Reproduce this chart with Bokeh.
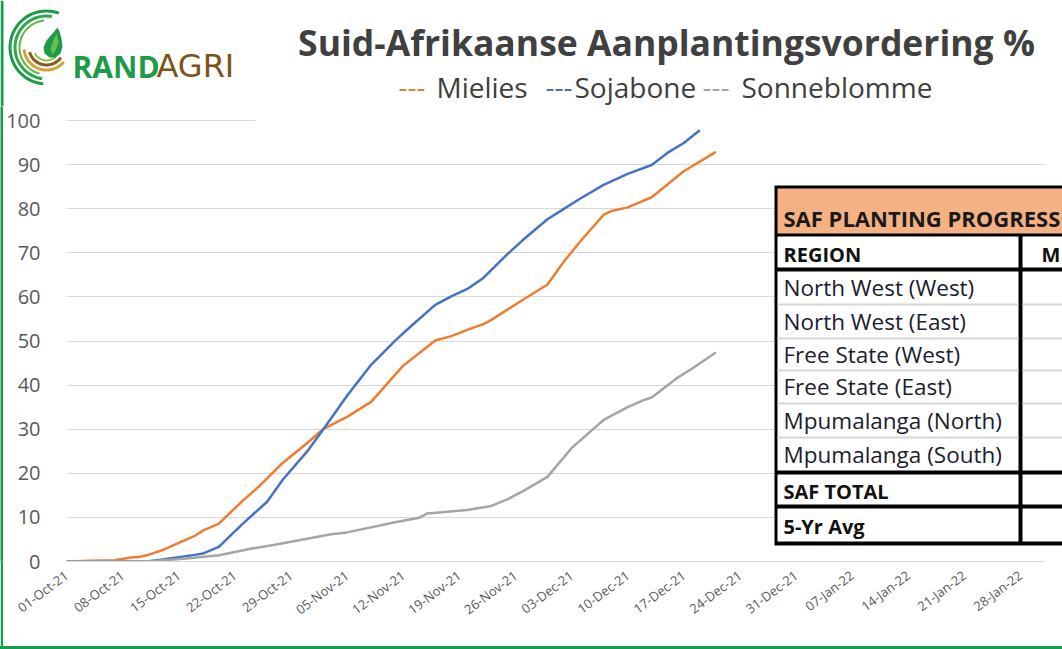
import math
import numpy as np
import pandas as pd
from bokeh.plotting import figure
from bokeh.layouts import column, row
from bokeh.models import (Range1d, FixedTicker, DatetimeTickFormatter, Label, BoxAnnotation)
from bokeh.core.properties import value
from bokeh.embed import file_html
from bokeh.resources import INLINE

# ---------------- data ----------------
mielies_dates = ["2021-10-01", "2021-10-04", "2021-10-07", "2021-10-09", "2021-10-10",
                 "2021-10-11", "2021-10-13", "2021-10-15", "2021-10-17", "2021-10-18",
                 "2021-10-20", "2021-10-23", "2021-10-25", "2021-10-28", "2021-10-31",
                 "2021-11-02", "2021-11-05", "2021-11-08", "2021-11-12", "2021-11-16",
                 "2021-11-18", "2021-11-21", "2021-11-22", "2021-11-23", "2021-11-27",
                 "2021-11-30", "2021-12-02", "2021-12-04", "2021-12-07", "2021-12-08",
                 "2021-12-10", "2021-12-13", "2021-12-17", "2021-12-21"]
mielies_pct = [0.0, 0.15, 0.3, 0.9, 1.0,
               1.4, 2.6, 4.2, 5.8, 7.0,
               8.6, 13.8, 17.0, 22.4, 26.8,
               30.0, 32.8, 36.2, 44.4, 50.1,
               51.1, 53.2, 53.8, 54.8, 59.4,
               62.8, 67.9, 72.4, 78.6, 79.5,
               80.3, 82.6, 88.5, 92.9]

sojabone_dates = ["2021-10-01", "2021-10-11", "2021-10-13", "2021-10-17", "2021-10-18",
                  "2021-10-20", "2021-10-23", "2021-10-26", "2021-10-28", "2021-10-31",
                  "2021-11-02", "2021-11-05", "2021-11-08", "2021-11-11", "2021-11-13",
                  "2021-11-16", "2021-11-18", "2021-11-20", "2021-11-22", "2021-11-25",
                  "2021-11-27", "2021-11-30", "2021-12-02", "2021-12-04", "2021-12-07",
                  "2021-12-10", "2021-12-13", "2021-12-15", "2021-12-17", "2021-12-19"]
sojabone_pct = [0.0, 0.0, 0.45, 1.5, 1.8,
                3.3, 8.6, 13.5, 18.6, 24.9,
                29.9, 37.6, 44.6, 50.1, 53.4,
                58.2, 60.1, 61.8, 64.3, 69.7,
                73.0, 77.6, 79.9, 82.2, 85.4,
                87.9, 89.9, 92.7, 94.9, 97.8]

sonneblomme_dates = ["2021-10-01", "2021-10-11", "2021-10-16", "2021-10-20", "2021-10-24",
                     "2021-10-27", "2021-10-30", "2021-11-03", "2021-11-05", "2021-11-11",
                     "2021-11-14", "2021-11-15", "2021-11-20", "2021-11-23", "2021-11-25",
                     "2021-11-27", "2021-11-30", "2021-12-03", "2021-12-07", "2021-12-10",
                     "2021-12-12", "2021-12-13", "2021-12-16", "2021-12-18", "2021-12-21"]
sonneblomme_pct = [0.0, 0.0, 0.7, 1.4, 2.9,
                   3.8, 4.8, 6.2, 6.6, 8.9,
                   9.9, 10.9, 11.7, 12.6, 14.1,
                   16.0, 19.2, 25.7, 32.1, 35.0,
                   36.6, 37.2, 41.4, 43.7, 47.4]

y_ticks = [0, 10, 20, 30, 40, 50, 60, 70, 80, 90, 100]
x_tick_dates = ["2021-10-01", "2021-10-08", "2021-10-15", "2021-10-22", "2021-10-29",
                "2021-11-05", "2021-11-12", "2021-11-19", "2021-11-26", "2021-12-03",
                "2021-12-10", "2021-12-17", "2021-12-24", "2021-12-31", "2022-01-07",
                "2022-01-14", "2022-01-21", "2022-01-28"]
axis_start, axis_end = "2021-10-01", "2022-01-31"

title_text = "Suid-Afrikaanse Aanplantingsvordering %"
series_names = ["Mielies", "Sojabone", "Sonneblomme"]
series_colors = ["#ed7d31", "#4472c4", "#a5a5a5"]

table_title = "SAF PLANTING PROGRESS"
table_header = ["REGION", "M"]
table_regions = ["North West (West)", "North West (East)", "Free State (West)",
                 "Free State (East)", "Mpumalanga (North)", "Mpumalanga (South)"]
table_totals = ["SAF TOTAL", "5-Yr Avg"]


def ms(s):
    return float((np.datetime64(s) - np.datetime64("1970-01-01T00:00")) / np.timedelta64(1, "ms"))


DAY = 86400000.0
GREEN = "#179c4f"
FONT = "Open Sans"
CAPF = 0.36   # shift from wanted baseline to the y that the renderer needs

# ---------------- page geometry ----------------
PAGE_W, PAGE_H = 1062, 649
BAND_H = 106           # top band with logo/title/legend
STRIPE = 3             # green frame width
CH_W = PAGE_W - STRIPE
CH_H = PAGE_H - BAND_H - STRIPE
FL, FR, FT, FB = 66, PAGE_W, BAND_H, 561   # chart frame in page coords
PX_PER_DAY = (1044 - 66) / 122.0
PX_PER_UNIT = (561 - 120) / 100.0

# ================= top band =================
top = figure(width=PAGE_W, height=BAND_H, output_backend="svg", toolbar_location=None,
             x_range=Range1d(0, PAGE_W), y_range=Range1d(BAND_H, 0),
             x_axis_location=None, y_axis_location=None,
             min_border=0, min_border_left=0, min_border_right=0,
             min_border_top=0, min_border_bottom=0)
top.outline_line_color = None
top.background_fill_color = "white"
top.border_fill_color = "white"
top.xgrid.visible = False
top.ygrid.visible = False

top.quad(left=[0], right=[STRIPE], top=[0], bottom=[BAND_H], fill_color=GREEN, line_color=None)


def arc_pts(cx, cy, r_out, r_in, a0, a1):
    t = np.radians(np.linspace(a0, a1, 40))
    xs = list(cx + r_out * np.cos(t)) + list(cx + r_in * np.cos(t[::-1]))
    ys = list(cy - r_out * np.sin(t)) + list(cy - r_in * np.sin(t[::-1]))
    return xs, ys


cx, cy = 46, 47
for (ro, ri, a0, a1, col) in [(38, 35, 70, 265, "#1e9b48"),
                              (33, 30, 80, 262, "#2aa94f"),
                              (28, 26, 95, 255, "#5cb947"),
                              (24, 21, 185, 320, "#d6a23a"),
                              (19, 16, 195, 325, "#8a5a22"),
                              (14, 12, 205, 320, "#8dc63f")]:
    xs, ys = arc_pts(cx, cy, ro, ri, a0, a1)
    top.patch(xs, ys, fill_color=col, line_color=None)
leaf = [(57, 27), (52, 33), (46, 40), (43, 47), (44, 53), (49, 57), (55, 57),
        (60, 53), (62, 46), (61, 38), (59, 31)]
top.patch([a for a, b in leaf], [b for a, b in leaf], fill_color="#1e9b48", line_color=None)
top.patch([56, 53, 50, 52, 55, 58], [33, 40, 48, 54, 50, 42], fill_color="#6cc04a", line_color=None)


def ttext(x, base, s, size, color, bold=False, align="left", font=FONT):
    top.text(x=[x], y=[base - CAPF * size], text=[s], text_font=value(font),
             text_font_size=value(f"{size}px"),
             text_color=color, text_font_style="bold" if bold else "normal",
             text_align=align, text_baseline="alphabetic")


ttext(72, 77, "RAND", 30, "#1e9b48", bold=True)
ttext(156, 77, "AGRI", 32, "#7b5317", font="DejaVu Sans")
ttext(666, 54, title_text, 35.5, "#404040", bold=True, align="center")
LEG = 28
LEG_BASE = 97
ttext(398, LEG_BASE, "---", LEG, series_colors[0])
ttext(436, LEG_BASE, series_names[0], LEG, "#404040")
ttext(545, LEG_BASE, "---", LEG, series_colors[1])
ttext(574, LEG_BASE, series_names[1], LEG, "#404040")
ttext(702, LEG_BASE, "---", LEG, series_colors[2])
ttext(741, LEG_BASE, series_names[2], LEG, "#404040")

# ================= chart =================
x0 = ms(axis_start)
x1 = x0 + (FR - FL) / PX_PER_DAY * DAY
y1 = 100 + (120 - FT) / PX_PER_UNIT

p = figure(width=CH_W, height=CH_H, output_backend="svg", toolbar_location=None,
           x_axis_type="datetime",
           x_range=Range1d(x0, x1), y_range=Range1d(0, y1),
           min_border_left=FL - STRIPE, min_border_right=0,
           min_border_top=0, min_border_bottom=(PAGE_H - STRIPE) - FB)
p.outline_line_color = None
p.background_fill_color = "white"
p.border_fill_color = "white"

p.yaxis.ticker = FixedTicker(ticks=y_ticks)
p.yaxis.axis_line_color = None
p.yaxis.major_tick_line_color = None
p.yaxis.minor_tick_line_color = None
p.yaxis.major_tick_out = 0
p.yaxis.major_tick_in = 0
p.yaxis.minor_tick_out = 0
p.yaxis.major_label_text_font = FONT
p.yaxis.major_label_text_font_size = "20px"
p.yaxis.major_label_text_color = "#595959"
p.yaxis.major_label_standoff = 26
p.ygrid.ticker = FixedTicker(ticks=y_ticks[1:])
p.ygrid.grid_line_color = "#d9d9d9"
p.ygrid.grid_line_width = 1
p.xgrid.grid_line_color = None

fmt = "%d-%b-%y"
p.xaxis.ticker = FixedTicker(ticks=[ms(d) for d in x_tick_dates])
p.xaxis.formatter = DatetimeTickFormatter(milliseconds=fmt, seconds=fmt, minsec=fmt, minutes=fmt,
                                          hourmin=fmt, hours=fmt, days=fmt, months=fmt, years=fmt)
p.xaxis.bounds = (ms(axis_start), ms(axis_end))
p.xaxis.major_label_orientation = math.radians(37)
p.xaxis.axis_line_color = "#d9d9d9"
p.xaxis.axis_line_width = 1
p.xaxis.major_tick_line_color = None
p.xaxis.minor_tick_line_color = None
p.xaxis.major_tick_out = 0
p.xaxis.major_tick_in = 0
p.xaxis.minor_tick_out = 0
p.xaxis.major_label_text_font = FONT
p.xaxis.major_label_text_font_size = "13px"
p.xaxis.major_label_text_color = "#595959"
p.xaxis.major_label_standoff = 12

for dates, vals, col in [(mielies_dates, mielies_pct, series_colors[0]),
                         (sojabone_dates, sojabone_pct, series_colors[1]),
                         (sonneblomme_dates, sonneblomme_pct, series_colors[2])]:
    p.line(x=pd.to_datetime(dates), y=vals, line_color=col, line_width=2.5, line_join="round")


def sx(X):
    return X - FL


def sy(Y):
    return FB - Y


def box(X0, Y0, X1, Y1, color):
    p.add_layout(BoxAnnotation(left=sx(X0), right=sx(X1), top=sy(Y0), bottom=sy(Y1),
                               left_units="screen", right_units="screen",
                               top_units="screen", bottom_units="screen",
                               fill_color=color, fill_alpha=1.0, line_color=None))


def lab(text, X, base, size, color, bold=False):
    p.add_layout(Label(x=sx(X), y=sy(base - CAPF * size), x_units="screen", y_units="screen",
                       text=text, text_font=FONT, text_font_size=f"{size}px", text_color=color,
                       text_font_style="bold" if bold else "normal",
                       text_align="left", text_baseline="alphabetic"))


# title block hides the top gridline; plot area ends at 31-Jan
box(255, 116, PAGE_W + 5, 124, "white")
box(1045, FT - 5, PAGE_W + 5, FB + 5, "white")

# table
TR = PAGE_W + 10
box(774, 185, TR, 545, "black")
box(777, 188, TR, 233, "#f4b183")
box(777, 236, 1018, 267, "white")
box(1022, 236, TR, 267, "white")
box(777, 271, 1018, 470, "white")
box(1022, 271, TR, 470, "white")
for yy in [304, 338, 370, 403, 437]:
    box(777, yy - 1, 1018, yy + 1, "#d6d6d6")
    box(1022, yy - 1, TR, yy + 1, "#d6d6d6")
box(777, 474, 1018, 504, "white")
box(1022, 474, TR, 504, "white")
box(777, 508, 1018, 541, "white")
box(1022, 508, TR, 541, "white")

lab(table_title, 783, 225, 22, "#1a1a1a", bold=True)
lab(table_header[0], 783, 261, 20, "#111111", bold=True)
lab(table_header[1], 1041, 261, 20, "#111111", bold=True)
row_centers = [287.5, 321, 354, 386.5, 420, 454.5]
for name, c in zip(table_regions, row_centers):
    lab(name, 783, c + 8, 22.5, "#1c1c30")
lab(table_totals[0], 783, 498, 20, "#111111", bold=True)
lab(table_totals[1], 783, 533, 20, "#111111", bold=True)

# ================= green frame pieces =================
left_stripe = figure(width=STRIPE, height=CH_H, output_backend="svg", toolbar_location=None,
                     x_axis_location=None, y_axis_location=None,
                     min_border=0, min_border_left=0, min_border_right=0,
                     min_border_top=0, min_border_bottom=0)
left_stripe.outline_line_color = None
left_stripe.background_fill_color = GREEN
left_stripe.border_fill_color = GREEN
left_stripe.xgrid.visible = False
left_stripe.ygrid.visible = False

layout = column(top, row(left_stripe, p, spacing=0), spacing=0,
                styles={"border-bottom": f"{STRIPE}px solid {GREEN}"})
open("out.html", "w").write(file_html(layout, INLINE))
